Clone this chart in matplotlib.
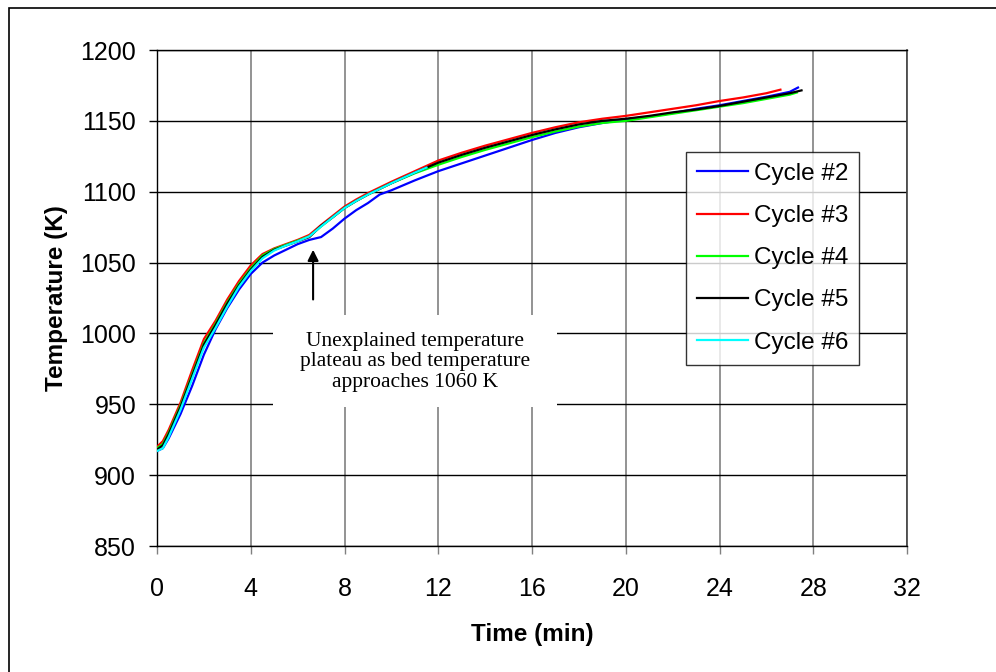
import matplotlib
matplotlib.use('Agg')
import matplotlib.pyplot as plt
from matplotlib.patches import Rectangle

plt.rcParams['font.family'] = ['Liberation Sans', 'DejaVu Sans']

# bed temperature vs. time for each regeneration cycle
t_c2 = [0, 0.25, 0.5, 1, 1.5, 2, 2.5, 3, 3.5, 4, 4.5, 5, 5.5, 6, 6.5, 7, 7.5, 8, 8.5, 9,
        9.5, 10, 11, 12, 13, 14, 15, 16, 17, 18, 19, 20, 21, 22, 23, 24, 25, 26, 27, 27.35]
T_c2 = [917, 919, 926, 943, 963, 985, 1003, 1018, 1031, 1042, 1050, 1055, 1059, 1063, 1066,
        1068, 1074, 1081, 1087, 1092, 1098, 1101, 1108, 1114.5, 1120, 1125.5, 1131, 1136.5,
        1141.5, 1145.5, 1148.5, 1151, 1153, 1155.5, 1158.5, 1161, 1164, 1167, 1170.5, 1173.5]

t_c3 = [0, 0.25, 0.5, 1, 1.5, 2, 2.5, 3, 3.5, 4, 4.5, 5, 5.5, 6, 6.5, 7, 7.5, 8, 8.5, 9,
        9.5, 10, 11, 12, 13, 14, 15, 16, 17, 18, 19, 20, 21, 22, 23, 24, 25, 26, 26.6]
T_c3 = [920, 924, 932, 951, 974, 996, 1009, 1024, 1037, 1048, 1056, 1060, 1063, 1066, 1069.5,
        1076.5, 1083, 1089.5, 1094.5, 1099, 1103, 1107, 1114.5, 1122, 1127.5, 1132.5, 1137,
        1141.5, 1145.5, 1149, 1151.5, 1153.5, 1156, 1158.5, 1161, 1164, 1166.5, 1169.5, 1172]

t_c4 = [0, 0.25, 0.5, 1, 1.5, 2, 2.5, 3, 3.5, 4, 4.5, 5, 5.5, 6, 6.5, 7, 7.5, 8, 8.5, 9,
        9.5, 10, 11, 12, 13, 14, 15, 16, 17, 18, 19, 20, 21, 22, 23, 24, 25, 26, 27, 27.3]
T_c4 = [919, 922, 930, 949, 971, 993, 1007, 1022, 1035, 1046, 1055, 1059.5, 1062.5, 1065.5,
        1068.5, 1075.5, 1082, 1088.5, 1093.5, 1098, 1102, 1106, 1113, 1119, 1124.5, 1129.5,
        1134, 1138.5, 1142.5, 1146, 1148.5, 1150, 1152.5, 1155, 1157.5, 1160, 1162.5,
        1165.5, 1168.5, 1170]

t_c5 = [0, 0.25, 0.5, 1, 1.5, 2, 2.5, 3, 3.5, 4, 4.5, 5, 5.5, 6, 6.5, 7, 7.5, 8, 8.5, 9,
        9.5, 10, 11, 12, 13, 14, 15, 16, 17, 18, 19, 20, 21, 22, 23, 24, 25, 26, 27, 27.5]
T_c5 = [918, 921, 929, 948, 970, 992, 1006, 1021, 1034, 1045, 1054, 1059, 1062, 1065, 1068,
        1076, 1082, 1088.5, 1093.5, 1098, 1102, 1106, 1113.5, 1120.5, 1126, 1131, 1135.5,
        1140, 1144, 1147.5, 1150, 1151.5, 1153.5, 1156, 1158, 1160.5, 1163.5, 1166.5, 1169.5,
        1171.5]

t_c6 = [0, 0.25, 0.5, 1, 1.5, 2, 2.5, 3, 3.5, 4, 4.5, 5, 5.5, 6, 6.5, 7, 7.5, 8, 8.5, 9,
        9.5, 10, 11, 11.5]
T_c6 = [917, 919, 927, 946, 968, 990, 1004, 1019, 1033, 1044, 1053, 1058.5, 1062, 1065,
        1068.5, 1075.5, 1082, 1088.5, 1093.5, 1098, 1102, 1106, 1113.5, 1117]

series = [
    (t_c2, T_c2, 'Cycle #2', '#0000ff'),
    (t_c3, T_c3, 'Cycle #3', '#ff0000'),
    (t_c4, T_c4, 'Cycle #4', '#00ff00'),
    (t_c5, T_c5, 'Cycle #5', '#000000'),
    (t_c6, T_c6, 'Cycle #6', '#00ffff'),
]

x_ticks = [0, 4, 8, 12, 16, 20, 24, 28, 32]
y_ticks = [850, 900, 950, 1000, 1050, 1100, 1150, 1200]

fig = plt.figure(figsize=(9.96, 6.72), dpi=100)
ax = fig.add_axes([157 / 996, 1 - 546 / 672, 750 / 996, 496 / 672])

for t, T, name, col in series:
    ax.plot(t, T, color=col, lw=1.6, label=name, zorder=3)

ax.set_xlim(0, 32)
ax.set_ylim(850, 1200)
ax.set_xticks(x_ticks)
ax.set_yticks(y_ticks)
ax.set_axisbelow(True)
ax.xaxis.grid(True, color='#808080', lw=1.2)
ax.yaxis.grid(True, color='black', lw=1.0)

for s in ['left', 'bottom', 'top']:
    ax.spines[s].set_color('black')
    ax.spines[s].set_linewidth(1.0)
ax.spines['right'].set_color('#404040')
ax.spines['right'].set_linewidth(1.2)

ax.tick_params(axis='both', direction='out', length=6, width=1, labelsize=18)
ax.tick_params(axis='x', pad=16, color='#808080')
ax.tick_params(axis='y', pad=9)

ax.set_xlabel('Time (min)', fontsize=17.5, fontweight='bold', labelpad=16)
ax.set_ylabel('Temperature (K)', fontsize=17.5, fontweight='bold', labelpad=9)

# white box behind the note, drawn over the grid
ax.add_patch(Rectangle((4.95, 948), 12.1, 65, facecolor='white', edgecolor='none', zorder=2))
ax.text(11.0, 980, 'Unexplained temperature\nplateau as bed temperature\napproaches 1060 K',
        ha='center', va='center', fontsize=15.5, family='Liberation Serif',
        linespacing=1.12, zorder=4)
ax.annotate('', xy=(6.66, 1061), xytext=(6.66, 1022),
            arrowprops=dict(arrowstyle='-|>', color='black', lw=1.5, mutation_scale=16),
            zorder=4)

leg = ax.legend(loc='upper left', bbox_to_anchor=(0.7053, 0.7944), borderaxespad=0,
                fontsize=17.5, frameon=True, fancybox=False, edgecolor='black',
                handlelength=2.1, handletextpad=0.25, labelspacing=0.83, borderpad=0.45)
leg.get_frame().set_linewidth(1.0)
leg.set_zorder(5)

# outer chart frame
fig.patches.append(Rectangle((9 / 996, -0.1), 1.2, 1 - 7.5 / 672 + 0.1, transform=fig.transFigure,
                             fill=False, edgecolor='black', lw=1.2))

fig.savefig('out.png', dpi=100)
